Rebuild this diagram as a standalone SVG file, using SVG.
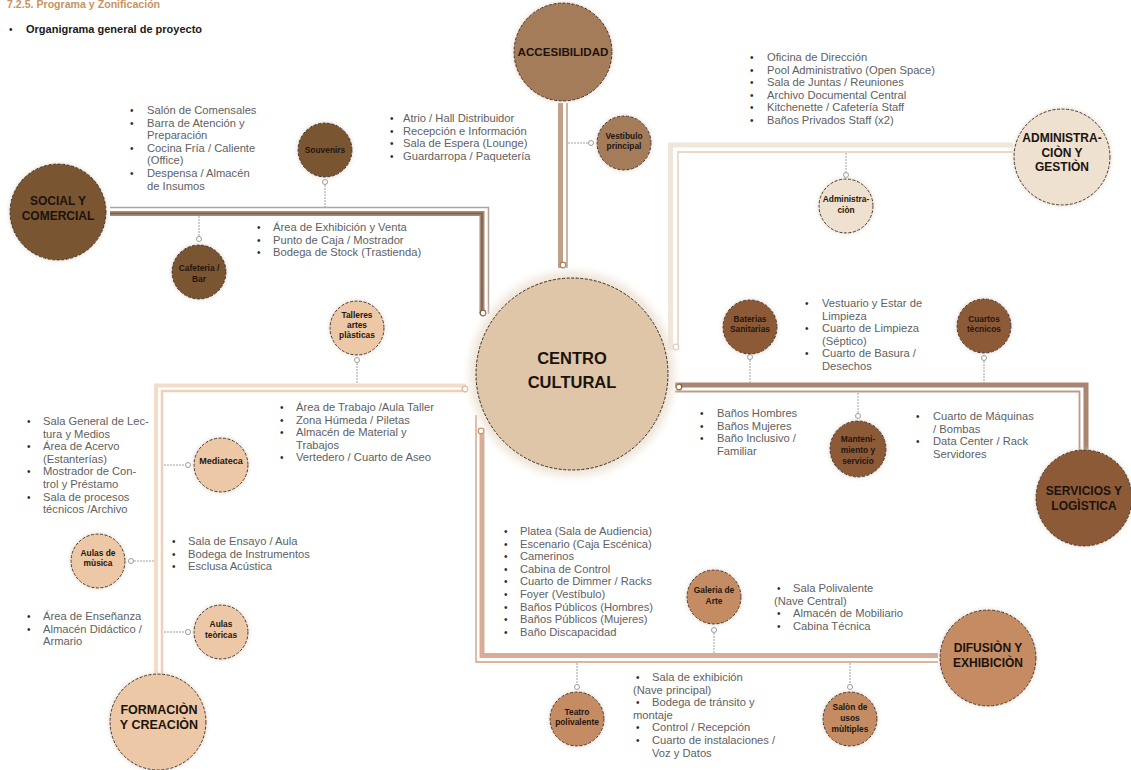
<svg xmlns="http://www.w3.org/2000/svg" width="1131" height="770" viewBox="0 0 1131 770">
<style>
text { font-family: "Liberation Sans", Arial, sans-serif; }
.lst { font-size: 11.2px; fill: #616161; }
.bul { font-size: 10px; fill: #2e2e2e; }
.big { font-size: 12px; font-weight: bold; fill: #1c130d; text-anchor: middle; }
.sm { font-size: 8.4px; font-weight: bold; fill: #24170e; text-anchor: middle; }
.nd { stroke: #3a2b21; stroke-width: 1; stroke-dasharray: 3 1.6; filter: url(#glow); }
.dash { fill: none; stroke: #a0a0a0; stroke-width: 1; stroke-dasharray: 2 1; }
.dot { fill: #ffffff; stroke: #9a9a9a; stroke-width: 1; }
.social { fill: #7a5432; }
.acc { fill: #a57b5a; }
.adm { fill: #eee1cf; }
.serv { fill: #8d5a38; }
.dif { fill: #c58b63; }
.form { fill: #ecc8a6; }
</style>
<defs>
<filter id="glow" x="-20%" y="-20%" width="140%" height="140%">
<feDropShadow dx="0" dy="0" stdDeviation="2" flood-color="#d8c9ba" flood-opacity="0.9"/>
</filter>
<filter id="glowc" x="-20%" y="-20%" width="140%" height="140%">
<feGaussianBlur stdDeviation="4"/>
</filter>
</defs>
<rect width="1131" height="770" fill="#ffffff"/>

<text x="7" y="8" style="font-size:10.6px;font-weight:bold;fill:#c8935f">7.2.5. Programa y Zonificación</text>
<text x="9" y="33" style="font-size:10px;fill:#1a1a1a">•</text>
<text x="26" y="33" style="font-size:11px;font-weight:bold;fill:#1a1a1a">Organigrama general de proyecto</text>

<g id="connectors" fill="none">
  <!-- Social y comercial -->
  <path d="M110 213.5 H482 V314" stroke="#a58876" stroke-width="5"/>
  <path d="M110 213.5 H482 V314" stroke="#7d5c45" stroke-width="1.4"/>
  <path d="M110 207.5 H488.5 V314" stroke="#b8a293" stroke-width="1.6"/>
  <circle cx="483" cy="313" r="2.8" fill="#fff" stroke="#7d5c45" stroke-width="1.2"/>
  <path class="dash" d="M325 185 V207"/>
  <circle class="dot" cx="325" cy="182" r="2.5"/>
  <path class="dash" d="M199 216 V236"/>
  <circle class="dot" cx="199" cy="239" r="2.5"/>
  <!-- Accesibilidad -->
  <path d="M560.5 103 V268" stroke="#c0a089" stroke-width="5"/>
  <path d="M567 103 V268" stroke="#c8ad99" stroke-width="1.8"/>
  <circle cx="563" cy="265" r="2.8" fill="#fff" stroke="#a57b5a" stroke-width="1.2"/>
  <path class="dash" d="M568 143 H588"/>
  <circle class="dot" cx="591" cy="143" r="2.5"/>
  <!-- Administracion -->
  <path d="M1013 145 H670.5 V350" stroke="#f0e6da" stroke-width="5"/>
  <path d="M1013 152 H678 V350" stroke="#e9dac8" stroke-width="1.8"/>
  <circle cx="676" cy="347" r="2.8" fill="#fff" stroke="#e2cfb8" stroke-width="1.2"/>
  <path class="dash" d="M846 153 V172"/>
  <circle class="dot" cx="846" cy="175" r="2.5"/>
  <!-- Servicios -->
  <path d="M675 385 H1086 V452" stroke="#a98572" stroke-width="5"/>
  <path d="M675 391.5 H1079.5 V452" stroke="#bc9c88" stroke-width="1.8"/>
  <circle cx="679" cy="387" r="2.8" fill="#fff" stroke="#8d5a38" stroke-width="1.2"/>
  <path class="dash" d="M750 360 V383"/>
  <circle class="dot" cx="750" cy="357" r="2.5"/>
  <path class="dash" d="M984 361 V383"/>
  <circle class="dot" cx="984" cy="358" r="2.5"/>
  <path class="dash" d="M858 393 V413"/>
  <circle class="dot" cx="858" cy="416" r="2.5"/>
  <!-- Difusion -->
  <path d="M482 428 V655.5 H938" stroke="#d6ad95" stroke-width="5"/>
  <path d="M476 415 V662 H938" stroke="#dcb59e" stroke-width="1.8"/>
  <circle cx="481" cy="431" r="2.8" fill="#fff" stroke="#c58b63" stroke-width="1.2"/>
  <path class="dash" d="M714 633 V653"/>
  <circle class="dot" cx="714" cy="630" r="2.5"/>
  <path class="dash" d="M577 663 V684"/>
  <circle class="dot" cx="577" cy="687" r="2.5"/>
  <path class="dash" d="M850 663 V684"/>
  <circle class="dot" cx="850" cy="687" r="2.5"/>
  <!-- Formacion -->
  <path d="M466 385.5 H156 V676" stroke="#f4dccb" stroke-width="4"/>
  <path d="M466 391 H162 V676" stroke="#eed0b7" stroke-width="2.5"/>
  <circle cx="465" cy="389" r="2.8" fill="#fff" stroke="#e0b592" stroke-width="1.2"/>
  <path class="dash" d="M357 363 V384"/>
  <circle class="dot" cx="357" cy="360" r="2.5"/>
  <path class="dash" d="M164 465 H185"/>
  <circle class="dot" cx="188" cy="465" r="2.5"/>
  <path class="dash" d="M134 561 H154"/>
  <circle class="dot" cx="131" cy="561" r="2.5"/>
  <path class="dash" d="M164 632 H185"/>
  <circle class="dot" cx="188" cy="632" r="2.5"/>
</g>

<g id="centro">
  <circle cx="572" cy="374" r="102" fill="#eee3d6" filter="url(#glowc)"/>
  <circle cx="572" cy="374" r="96" fill="#dfc6a8" stroke="#3a2b21" stroke-width="1" stroke-dasharray="3 1.6"/>
  <text x="572" y="364" class="big" style="font-size:16.5px">CENTRO</text>
  <text x="572" y="388" class="big" style="font-size:16.5px">CULTURAL</text>
</g>

<g id="social">
  <circle class="nd social" cx="58" cy="212" r="48"/>
  <text class="big" x="58" y="205">SOCIAL Y</text>
  <text class="big" x="58" y="220">COMERCIAL</text>
</g>
<g id="souvenirs">
  <circle class="nd social" cx="325" cy="150" r="27"/>
  <text class="sm" x="325" y="153">Souvenirs</text>
</g>
<g id="cafeteria">
  <circle class="nd social" cx="199" cy="272" r="27"/>
  <text class="sm" x="199" y="271">Cafeteria /</text>
  <text class="sm" x="199" y="282">Bar</text>
</g>

<g id="accesibilidad">
  <circle class="nd acc" cx="563" cy="52" r="49"/>
  <text class="big" x="563" y="56" style="font-size:11.6px">ACCESIBILIDAD</text>
</g>
<g id="vestibulo">
  <circle class="nd acc" cx="624" cy="143" r="27"/>
  <text class="sm" x="624" y="139">Vestibulo</text>
  <text class="sm" x="624" y="149">principal</text>
</g>

<g id="administracion-gestion">
  <circle class="nd adm" cx="1062" cy="157" r="48"/>
  <text class="big" x="1062" y="142">ADMINISTRA-</text>
  <text class="big" x="1062" y="157">CIÒN Y</text>
  <text class="big" x="1062" y="171">GESTIÒN</text>
</g>
<g id="administracion">
  <circle class="nd adm" cx="846" cy="206" r="27"/>
  <text class="sm" x="846" y="202">Administra-</text>
  <text class="sm" x="846" y="213">ciòn</text>
</g>

<g id="servicios">
  <circle class="nd serv" cx="1084" cy="498" r="48"/>
  <text class="big" x="1084" y="495">SERVICIOS Y</text>
  <text class="big" x="1084" y="510">LOGÌSTICA</text>
</g>
<g id="baterias">
  <circle class="nd serv" cx="750" cy="327" r="27"/>
  <text class="sm" x="750" y="322">Baterias</text>
  <text class="sm" x="750" y="332">Sanitarias</text>
</g>
<g id="cuartos">
  <circle class="nd serv" cx="984" cy="326" r="27"/>
  <text class="sm" x="984" y="322">Cuartos</text>
  <text class="sm" x="984" y="332">tècnicos</text>
</g>
<g id="mantenimiento">
  <circle class="nd serv" cx="858" cy="449" r="28"/>
  <text class="sm" x="858" y="442">Manteni-</text>
  <text class="sm" x="858" y="453">miento y</text>
  <text class="sm" x="858" y="464">servicio</text>
</g>

<g id="difusion">
  <circle class="nd dif" cx="988" cy="658" r="48"/>
  <text class="big" x="988" y="652">DIFUSIÒN Y</text>
  <text class="big" x="988" y="667">EXHIBICIÒN</text>
</g>
<g id="galeria">
  <circle class="nd dif" cx="714" cy="597" r="27"/>
  <text class="sm" x="714" y="593">Galeria de</text>
  <text class="sm" x="714" y="604">Arte</text>
</g>
<g id="teatro">
  <circle class="nd dif" cx="577" cy="719" r="27"/>
  <text class="sm" x="577" y="715">Teatro</text>
  <text class="sm" x="577" y="725">polivalente</text>
</g>
<g id="salon">
  <circle class="nd dif" cx="850" cy="719" r="27"/>
  <text class="sm" x="850" y="710">Salòn de</text>
  <text class="sm" x="850" y="721">usos</text>
  <text class="sm" x="850" y="732">mùltiples</text>
</g>

<g id="formacion">
  <circle class="nd form" cx="158" cy="722" r="48"/>
  <text class="big" x="159" y="714" style="font-size:12.5px">FORMACIÒN</text>
  <text class="big" x="159" y="729" style="font-size:12.5px">Y CREACIÒN</text>
</g>
<g id="talleres">
  <circle class="nd form" cx="357" cy="328" r="27"/>
  <text class="sm" x="357" y="318">Talleres</text>
  <text class="sm" x="357" y="328">artes</text>
  <text class="sm" x="357" y="338">plàsticas</text>
</g>
<g id="mediateca">
  <circle class="nd form" cx="221" cy="465" r="27"/>
  <text class="sm" x="221" y="464" style="font-size:9px">Mediateca</text>
</g>
<g id="musica">
  <circle class="nd form" cx="98" cy="561" r="27"/>
  <text class="sm" x="98" y="556">Aulas de</text>
  <text class="sm" x="98" y="566">mùsica</text>
</g>
<g id="teoricas">
  <circle class="nd form" cx="221" cy="632" r="27"/>
  <text class="sm" x="221" y="627">Aulas</text>
  <text class="sm" x="221" y="638">teòricas</text>
</g>

<g id="lists">
  <!-- Cafeteria list -->
  <text class="bul"><tspan x="130" y="114">•</tspan><tspan x="130" y="126.6">•</tspan><tspan x="130" y="151.8">•</tspan><tspan x="130" y="177">•</tspan></text>
  <text class="lst"><tspan x="147" y="114">Salón de Comensales</tspan><tspan x="147" y="126.6">Barra de Atención y</tspan><tspan x="147" y="139.2">Preparación</tspan><tspan x="147" y="151.8">Cocina Fría / Caliente</tspan><tspan x="147" y="164.4">(Office)</tspan><tspan x="147" y="177">Despensa / Almacén</tspan><tspan x="147" y="189.6">de Insumos</tspan></text>
  <!-- Souvenirs list -->
  <text class="bul"><tspan x="257" y="231">•</tspan><tspan x="257" y="243.6">•</tspan><tspan x="257" y="256.2">•</tspan></text>
  <text class="lst"><tspan x="273" y="231">Área de Exhibición y Venta</tspan><tspan x="273" y="243.6">Punto de Caja / Mostrador</tspan><tspan x="273" y="256.2">Bodega de Stock (Trastienda)</tspan></text>
  <!-- Vestibulo list -->
  <text class="bul"><tspan x="390" y="122">•</tspan><tspan x="390" y="134.6">•</tspan><tspan x="390" y="147.2">•</tspan><tspan x="390" y="159.8">•</tspan></text>
  <text class="lst"><tspan x="403" y="122">Atrio / Hall Distribuidor</tspan><tspan x="403" y="134.6">Recepción e Información</tspan><tspan x="403" y="147.2">Sala de Espera (Lounge)</tspan><tspan x="403" y="159.8">Guardarropa / Paquetería</tspan></text>
  <!-- Administracion list -->
  <text class="bul"><tspan x="750" y="61">•</tspan><tspan x="750" y="73.6">•</tspan><tspan x="750" y="86.2">•</tspan><tspan x="750" y="98.8">•</tspan><tspan x="750" y="111.4">•</tspan><tspan x="750" y="124">•</tspan></text>
  <text class="lst"><tspan x="767" y="61">Oficina de Dirección</tspan><tspan x="767" y="73.6">Pool Administrativo (Open Space)</tspan><tspan x="767" y="86.2">Sala de Juntas / Reuniones</tspan><tspan x="767" y="98.8">Archivo Documental Central</tspan><tspan x="767" y="111.4">Kitchenette / Cafetería Staff</tspan><tspan x="767" y="124">Baños Privados Staff (x2)</tspan></text>
  <!-- Mantenimiento list -->
  <text class="bul"><tspan x="805" y="307">•</tspan><tspan x="805" y="332.2">•</tspan><tspan x="805" y="357.4">•</tspan></text>
  <text class="lst"><tspan x="822" y="307">Vestuario y Estar de</tspan><tspan x="822" y="319.6">Limpieza</tspan><tspan x="822" y="332.2">Cuarto de Limpieza</tspan><tspan x="822" y="344.8">(Séptico)</tspan><tspan x="822" y="357.4">Cuarto de Basura /</tspan><tspan x="822" y="370">Desechos</tspan></text>
  <!-- Banos list -->
  <text class="bul"><tspan x="700" y="417">•</tspan><tspan x="700" y="429.6">•</tspan><tspan x="700" y="442.2">•</tspan></text>
  <text class="lst"><tspan x="717" y="417">Baños Hombres</tspan><tspan x="717" y="429.6">Baños Mujeres</tspan><tspan x="717" y="442.2">Baño Inclusivo /</tspan><tspan x="717" y="454.8">Familiar</tspan></text>
  <!-- Cuartos tecnicos list -->
  <text class="bul"><tspan x="916" y="420">•</tspan><tspan x="916" y="445.2">•</tspan></text>
  <text class="lst"><tspan x="933" y="420">Cuarto de Máquinas</tspan><tspan x="933" y="432.6">/ Bombas</tspan><tspan x="933" y="445.2">Data Center / Rack</tspan><tspan x="933" y="457.8">Servidores</tspan></text>
  <!-- Mediateca list -->
  <text class="bul"><tspan x="27" y="425">•</tspan><tspan x="27" y="450.2">•</tspan><tspan x="27" y="475.4">•</tspan><tspan x="27" y="500.6">•</tspan></text>
  <text class="lst"><tspan x="43" y="425">Sala General de Lec-</tspan><tspan x="43" y="437.6">tura y Medios</tspan><tspan x="43" y="450.2">Área de Acervo</tspan><tspan x="43" y="462.8">(Estanterías)</tspan><tspan x="43" y="475.4">Mostrador de Con-</tspan><tspan x="43" y="488">trol y Préstamo</tspan><tspan x="43" y="500.6">Sala de procesos</tspan><tspan x="43" y="513.2">técnicos /Archivo</tspan></text>
  <!-- Talleres list -->
  <text class="bul"><tspan x="280" y="411">•</tspan><tspan x="280" y="423.6">•</tspan><tspan x="280" y="436.2">•</tspan><tspan x="280" y="461.4">•</tspan></text>
  <text class="lst"><tspan x="296" y="411">Área de Trabajo /Aula Taller</tspan><tspan x="296" y="423.6">Zona Húmeda / Piletas</tspan><tspan x="296" y="436.2">Almacén de Material y</tspan><tspan x="296" y="448.8">Trabajos</tspan><tspan x="296" y="461.4">Vertedero / Cuarto de Aseo</tspan></text>
  <!-- Musica list -->
  <text class="bul"><tspan x="172" y="545">•</tspan><tspan x="172" y="557.6">•</tspan><tspan x="172" y="570.2">•</tspan></text>
  <text class="lst"><tspan x="188" y="545">Sala de Ensayo / Aula</tspan><tspan x="188" y="557.6">Bodega de Instrumentos</tspan><tspan x="188" y="570.2">Esclusa Acústica</tspan></text>
  <!-- Teoricas list -->
  <text class="bul"><tspan x="27" y="620">•</tspan><tspan x="27" y="632.6">•</tspan></text>
  <text class="lst"><tspan x="43" y="620">Área de Enseñanza</tspan><tspan x="43" y="632.6">Almacén Didáctico /</tspan><tspan x="43" y="645.2">Armario</tspan></text>
  <!-- Teatro list -->
  <text class="bul"><tspan x="504" y="535">•</tspan><tspan x="504" y="547.6">•</tspan><tspan x="504" y="560.2">•</tspan><tspan x="504" y="572.8">•</tspan><tspan x="504" y="585.4">•</tspan><tspan x="504" y="598">•</tspan><tspan x="504" y="610.6">•</tspan><tspan x="504" y="623.2">•</tspan><tspan x="504" y="635.8">•</tspan></text>
  <text class="lst"><tspan x="520" y="535">Platea (Sala de Audiencia)</tspan><tspan x="520" y="547.6">Escenario (Caja Escénica)</tspan><tspan x="520" y="560.2">Camerinos</tspan><tspan x="520" y="572.8">Cabina de Control</tspan><tspan x="520" y="585.4">Cuarto de Dimmer / Racks</tspan><tspan x="520" y="598">Foyer (Vestíbulo)</tspan><tspan x="520" y="610.6">Baños Públicos (Hombres)</tspan><tspan x="520" y="623.2">Baños Públicos (Mujeres)</tspan><tspan x="520" y="635.8">Baño Discapacidad</tspan></text>
  <!-- Galeria list -->
  <text class="bul"><tspan x="636" y="681">•</tspan><tspan x="636" y="706.2">•</tspan><tspan x="636" y="731.4">•</tspan><tspan x="636" y="744">•</tspan></text>
  <text class="lst"><tspan x="652" y="681">Sala de exhibición</tspan><tspan x="633" y="693.6">(Nave principal)</tspan><tspan x="652" y="706.2">Bodega de tránsito y</tspan><tspan x="633" y="718.8">montaje</tspan><tspan x="652" y="731.4">Control / Recepción</tspan><tspan x="652" y="744">Cuarto de instalaciones /</tspan><tspan x="652" y="756.6">Voz y Datos</tspan></text>
  <!-- Salon list -->
  <text class="bul"><tspan x="777" y="592">•</tspan><tspan x="777" y="617.2">•</tspan><tspan x="777" y="629.8">•</tspan></text>
  <text class="lst"><tspan x="793" y="592">Sala Polivalente</tspan><tspan x="774" y="604.6">(Nave Central)</tspan><tspan x="793" y="617.2">Almacén de Mobiliario</tspan><tspan x="793" y="629.8">Cabina Técnica</tspan></text>
</g>
</svg>
